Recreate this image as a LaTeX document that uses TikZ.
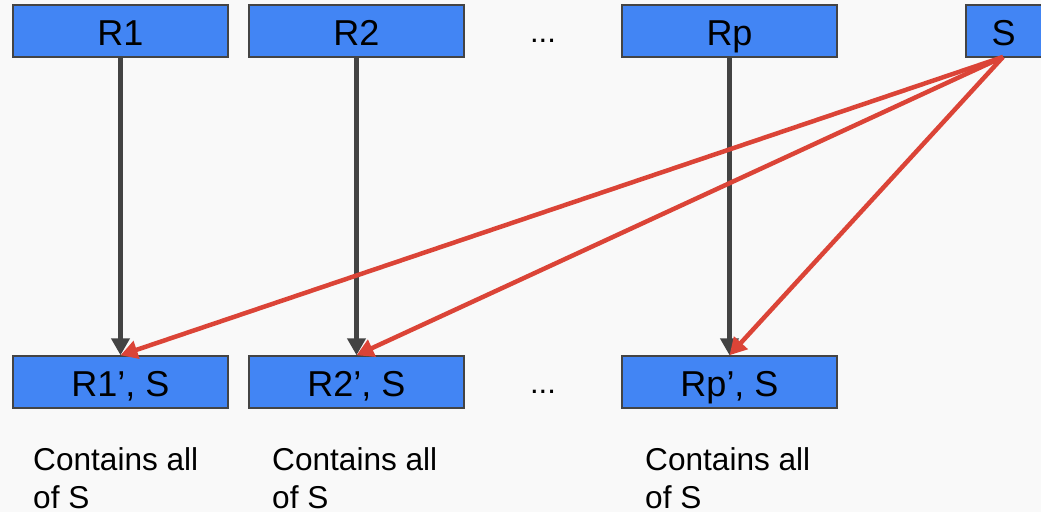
\documentclass[tikz,border=0pt]{standalone}
\usepackage{fontspec}
\setmainfont{Liberation Sans}
\usetikzlibrary{arrows.meta}
\definecolor{bg}{RGB}{249,249,249}
\definecolor{boxblue}{RGB}{66,133,244}
\definecolor{boxedge}{RGB}{68,68,68}
\definecolor{darkline}{RGB}{67,67,67}
\definecolor{redline}{RGB}{219,68,55}
\tikzset{
  relbox/.style={draw=boxedge, line width=1.5pt, fill=boxblue, minimum width=215pt, minimum height=52pt, inner sep=0pt, text height=28pt, text depth=0pt, font=\fontsize{36}{40}\selectfont, text=black},
  grayarrow/.style={draw=darkline, line width=4.5pt, -{Triangle[length=17pt,width=18pt]}},
  redarrow/.style={draw=redline, line width=4.5pt, -{Triangle[length=17pt,width=18pt]}},
  note/.style={font=\fontsize{31.6}{38}\selectfont, align=left, anchor=base west, inner sep=0pt, text=black},
  dots/.style={font=\fontsize{31}{34}\selectfont, text=black, anchor=base, inner sep=0pt}
}
\begin{document}
\begin{tikzpicture}[x=1pt,y=-1pt]
\clip (0,0) rectangle (1041,512);
\fill[bg] (0,0) rectangle (1041,512);
\node[relbox] (r1) at (120.5,31) {R1};
\node[relbox] (r2) at (356.5,31) {R2};
\node[relbox] (rp) at (729.5,31) {Rp};
\node[relbox, minimum width=80pt] (s) at (1006,31) {\hspace*{-5pt}S};
\node[dots] (d1) at (543,42) {...};
\node[relbox] (b1) at (120.5,382) {R1’, S};
\node[relbox] (b2) at (356.5,382) {R2’, S};
\node[relbox] (bp) at (729.5,382) {Rp’, S};
\node[dots] (d2) at (543,393) {...};
\coordinate (sb) at (1003,57);
\draw[grayarrow] (r1.south) -- (b1.north);
\draw[grayarrow] (r2.south) -- (b2.north);
\draw[grayarrow] (rp.south) -- (bp.north);
\draw[redarrow] (sb) -- (b1.north);
\draw[redarrow] (sb) -- (b2.north);
\draw[redarrow] (sb) -- (bp.north);
\node[note] (n1) at (33,508) {Contains all\\of S};
\node[note] (n2) at (272,508) {Contains all\\of S};
\node[note] (np) at (645,508) {Contains all\\of S};
\end{tikzpicture}
\end{document}
